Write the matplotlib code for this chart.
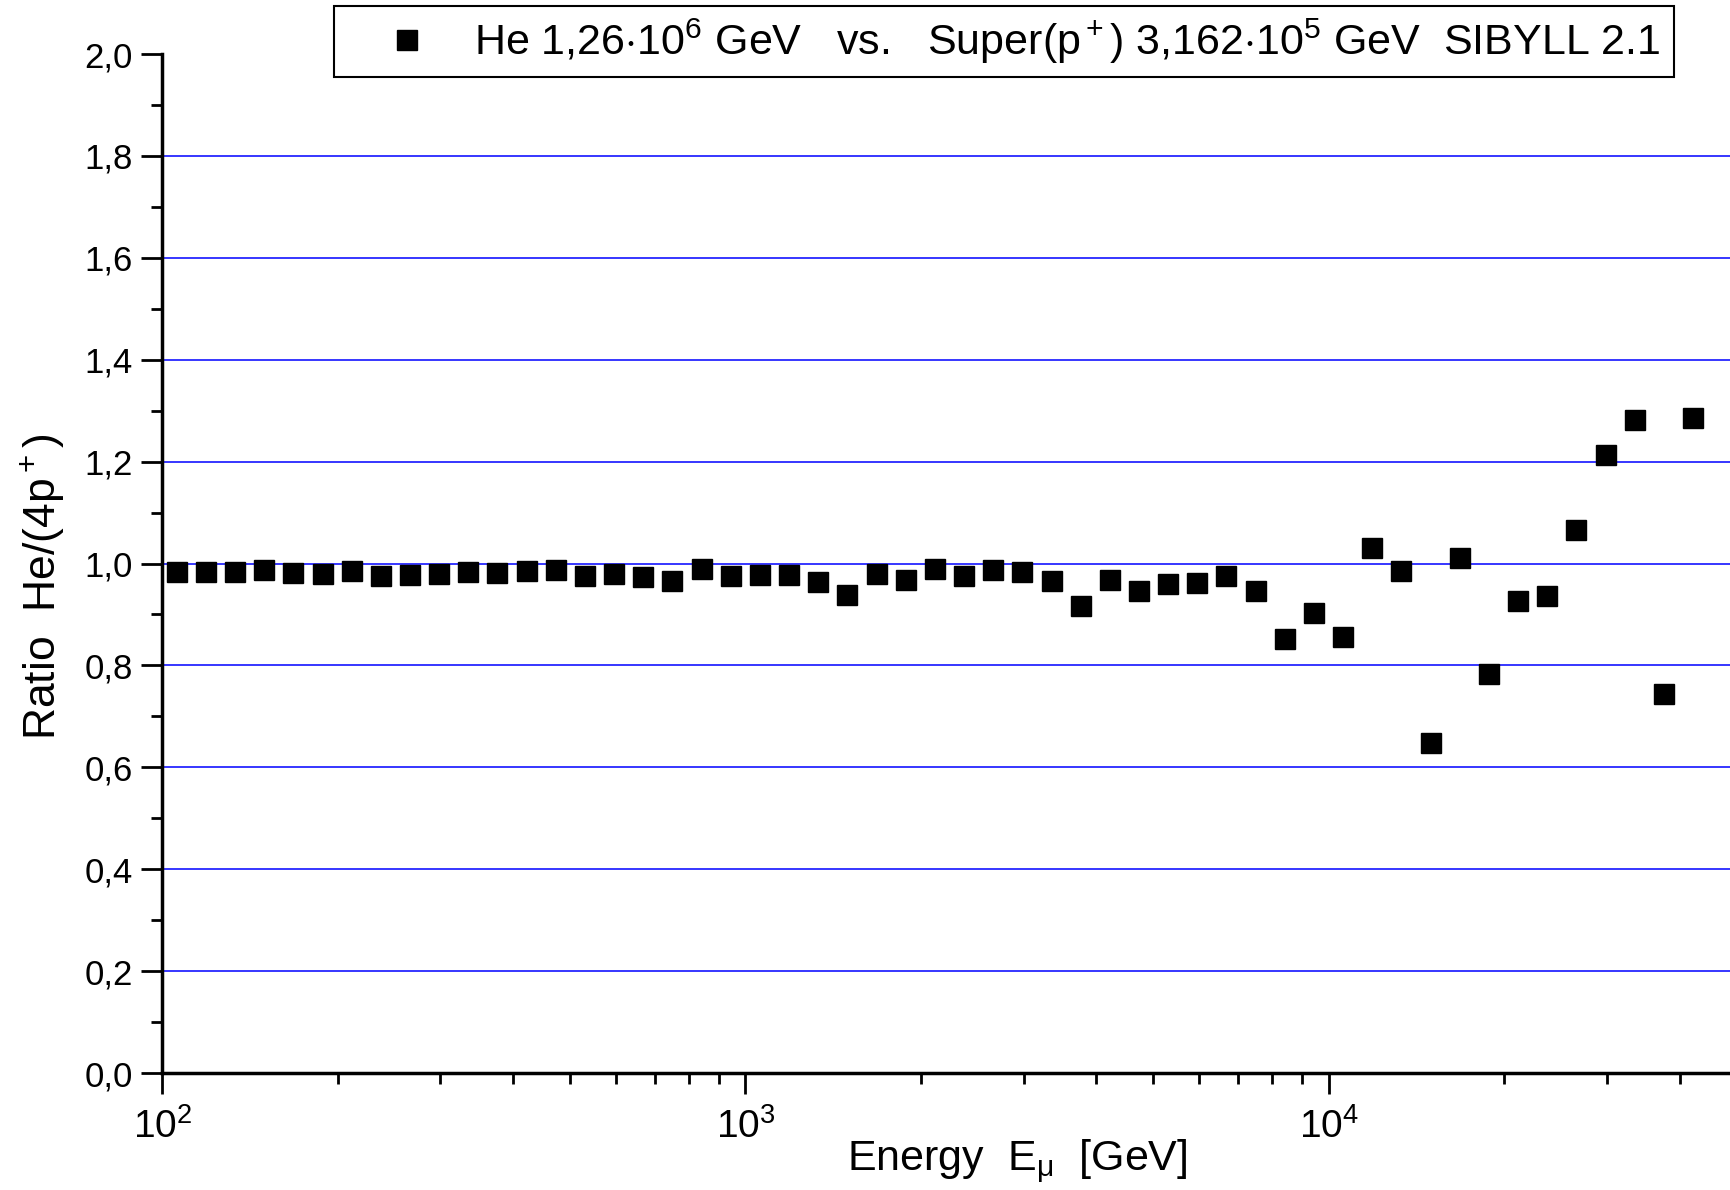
import matplotlib
matplotlib.use('Agg')
import matplotlib.pyplot as plt
from matplotlib.ticker import MultipleLocator, FixedLocator, NullFormatter
import numpy as np

plt.rcParams['font.family'] = ['Liberation Sans', 'DejaVu Sans']
plt.rcParams['mathtext.fontset'] = 'custom'
plt.rcParams['mathtext.rm'] = 'Liberation Sans'
plt.rcParams['mathtext.it'] = 'Liberation Sans:italic'
plt.rcParams['mathtext.bf'] = 'Liberation Sans:bold'

# muon energy bin centres [GeV]
energy = [105.9, 118.9, 133.4, 149.6, 167.9, 188.4, 211.3, 237.1, 266.1, 298.5,
          335.0, 375.8, 421.7, 473.2, 530.9, 595.7, 668.3, 749.9, 841.4, 944.1,
          1059, 1189, 1334, 1496, 1679, 1884, 2113, 2371, 2661, 2985,
          3350, 3758, 4217, 4732, 5309, 5957, 6683, 7499, 8414, 9441,
          10593, 11885, 13335, 14962, 16788, 18836, 21135, 23714, 26607, 29854,
          33497, 37584, 42170]

# ratio He / (4 p+)
ratio = [0.984, 0.984, 0.984, 0.988, 0.982, 0.979, 0.986, 0.975, 0.977, 0.979,
         0.984, 0.982, 0.986, 0.988, 0.975, 0.979, 0.973, 0.966, 0.990, 0.975,
         0.977, 0.977, 0.964, 0.938, 0.979, 0.968, 0.990, 0.975, 0.988, 0.984,
         0.966, 0.917, 0.968, 0.947, 0.960, 0.962, 0.975, 0.947, 0.852, 0.903,
         0.856, 1.031, 0.986, 0.648, 1.010, 0.784, 0.927, 0.936, 1.066, 1.213,
         1.281, 0.743, 1.285]

yticks = [0.0, 0.2, 0.4, 0.6, 0.8, 1.0, 1.2, 1.4, 1.6, 1.8, 2.0]
ytick_labels = ['0,0', '0,2', '0,4', '0,6', '0,8', '1,0', '1,2', '1,4', '1,6', '1,8', '2,0']
xticks = [1e2, 1e3, 1e4]
xtick_labels = ['10$^2$', '10$^3$', '10$^4$']

label = 'He 1,26$\\cdot$10$^6$ GeV   vs.   Super(p$^+$) 3,162$\\cdot$10$^5$ GeV  SIBYLL 2.1 '

fig = plt.figure(figsize=(17.31, 11.90), dpi=100)
ax = fig.add_axes([0.0937, 0.0983, 0.9063, 0.8563])

for y in yticks[1:-1]:
    ax.axhline(y, color='#0000ff', lw=1.1, zorder=1)

ax.plot(energy, ratio, 's', color='black', markersize=14, zorder=3, label=label)

ax.set_xscale('log')
ax.set_xlim(100, 49000)
ax.set_ylim(0, 2.0)

ax.set_yticks(yticks)
ax.set_yticklabels(ytick_labels, fontsize=25)
ax.yaxis.set_minor_locator(MultipleLocator(0.1))
ax.set_xticks(xticks)
ax.set_xticklabels(xtick_labels, fontsize=28)
minors = [m * 10**e for e in (2, 3, 4) for m in range(2, 10)]
ax.xaxis.set_minor_locator(FixedLocator(minors))
ax.xaxis.set_minor_formatter(NullFormatter())

ax.tick_params(which='major', direction='out', length=15, width=2)
ax.tick_params(which='minor', direction='out', length=8, width=2)
ax.tick_params(axis='x', pad=10)
ax.tick_params(axis='y', pad=6)

for s in ('top', 'right'):
    ax.spines[s].set_visible(False)
for s in ('left', 'bottom'):
    ax.spines[s].set_linewidth(2.5)

ax.set_xlabel('Energy  E$_{\\mathrm{\u03bc}}$  [GeV]', fontsize=31)
ax.xaxis.set_label_coords(0.545, -0.063)
ax.set_ylabel('Ratio  He/(4p$^+$)', fontsize=32)
ax.yaxis.set_label_coords(-0.061, 0.477)

leg = ax.legend(loc='upper left', bbox_to_anchor=(0.193, 0.995),
                bbox_transform=fig.transFigure, borderaxespad=0,
                fontsize=31, fancybox=False, framealpha=1, edgecolor='black',
                handletextpad=0.1, borderpad=0.25, handlelength=2.9)
leg.get_frame().set_linewidth(1.5)

plt.savefig('out.png', dpi=100)
